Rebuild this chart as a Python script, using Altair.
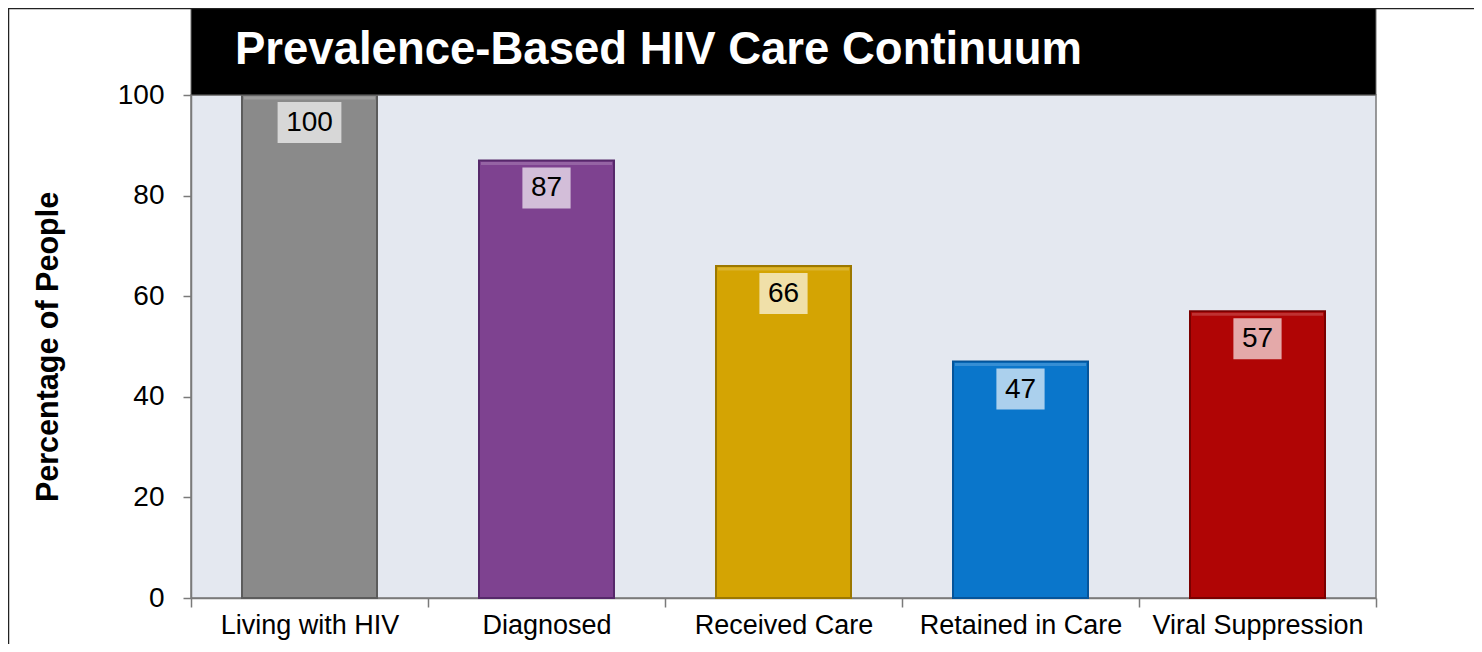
import altair as alt
import pandas as pd

categories = ["Living with HIV", "Diagnosed", "Received Care", "Retained in Care", "Viral Suppression"]
values = [100, 87, 66, 47, 57]
bar_colors = ["#8a8a8a", "#7e4290", "#d4a403", "#0a76cb", "#b00505"]
edge_colors = ["#5c5c5c", "#56286a", "#9c7800", "#05549a", "#7a0000"]
title_text = "Prevalence-Based HIV Care Continuum"
y_title = "Percentage of People"
y_ticks = [0, 20, 40, 60, 80, 100]

FONT = "Liberation Sans"
W, H = 1185, 503

df = pd.DataFrame({"cat": categories, "value": values, "label": [str(v) for v in values]})

x_enc = alt.X(
    "cat:N",
    sort=categories,
    scale=alt.Scale(paddingInner=0, paddingOuter=0),
    axis=alt.Axis(
        title=None, labelAngle=0, tickBand="extent", tickSize=9, tickColor="#7a7a7a",
        domainColor="#7a7a7a", domainWidth=1.5, tickWidth=1.5,
        labelFont=FONT, labelFontSize=27, labelColor="#000000", labelPadding=5,
        labelLimit=400,
    ),
)
y_enc = alt.Y(
    "value:Q",
    scale=alt.Scale(domain=[0, 100], nice=False),
    axis=alt.Axis(
        title=y_title, values=y_ticks, grid=False, tickSize=8, tickColor="#7a7a7a",
        domainColor="#7a7a7a", domainWidth=1.5, tickWidth=1.5,
        labelFont=FONT, labelFontSize=28, labelColor="#000000", labelPadding=19,
        titleFont=FONT, titleFontSize=30.5, titleFontWeight="bold", titleColor="#000000",
        titlePadding=54,
    ),
)

base = alt.Chart(df)

bars = base.mark_bar(width=135, strokeWidth=2).encode(
    x=x_enc,
    y=y_enc,
    color=alt.Color("cat:N", scale=alt.Scale(domain=categories, range=bar_colors), legend=None),
    stroke=alt.Stroke("cat:N", scale=alt.Scale(domain=categories, range=edge_colors), legend=None),
)

highlight = base.mark_bar(width=131, color="#ffffff", opacity=0.18, yOffset=1.5, y2Offset=4.5).encode(
    x=alt.X("cat:N", sort=categories),
    y="value:Q",
    y2="value:Q",
)

boxes = base.transform_calculate(
    boxw="length(datum.label) * 15.6 + 17"
).mark_bar(color="#ffffff", opacity=0.66, yOffset=7, y2Offset=48).encode(
    x=alt.X("cat:N", sort=categories),
    y="value:Q",
    y2="value:Q",
    size=alt.Size("boxw:Q", scale=None, legend=None),
)

labels = base.mark_text(font=FONT, fontSize=28, color="#000000", baseline="middle", dy=28).encode(
    x=alt.X("cat:N", sort=categories),
    y="value:Q",
    text="label:N",
)

one = alt.Chart(pd.DataFrame({"t": [title_text]}))

band = one.mark_rect(color="#000000", stroke="#6e6e6e", strokeWidth=1).encode(
    x=alt.value(0), x2=alt.value(W), y=alt.value(-87), y2=alt.value(0)
)

title = one.mark_text(
    font=FONT, fontSize=45.5, fontWeight="bold", color="#ffffff", align="left", baseline="alphabetic"
).encode(x=alt.value(44), y=alt.value(-31), text="t:N")

border_left = one.mark_rule(color="#222222", strokeWidth=1.5).encode(
    x=alt.value(-182.5), y=alt.value(-86.5), y2=alt.value(H + 46)
)
border_top = one.mark_rule(color="#222222", strokeWidth=1.5).encode(
    x=alt.value(-183), x2=alt.value(W + 98), y=alt.value(-86.5)
)

chart = alt.layer(bars, highlight, boxes, labels, band, title, border_left, border_top).properties(
    width=W,
    height=H,
    autosize=alt.AutoSizeParams(type="none"),
    padding={"left": 183, "top": 87, "right": 98, "bottom": 46},
    background="#ffffff",
).configure_view(
    fill="#e4e8f0", stroke="#7a7a7a", strokeWidth=1.5
)

chart.save("out.html", embed_options={"renderer": "svg", "actions": False})
